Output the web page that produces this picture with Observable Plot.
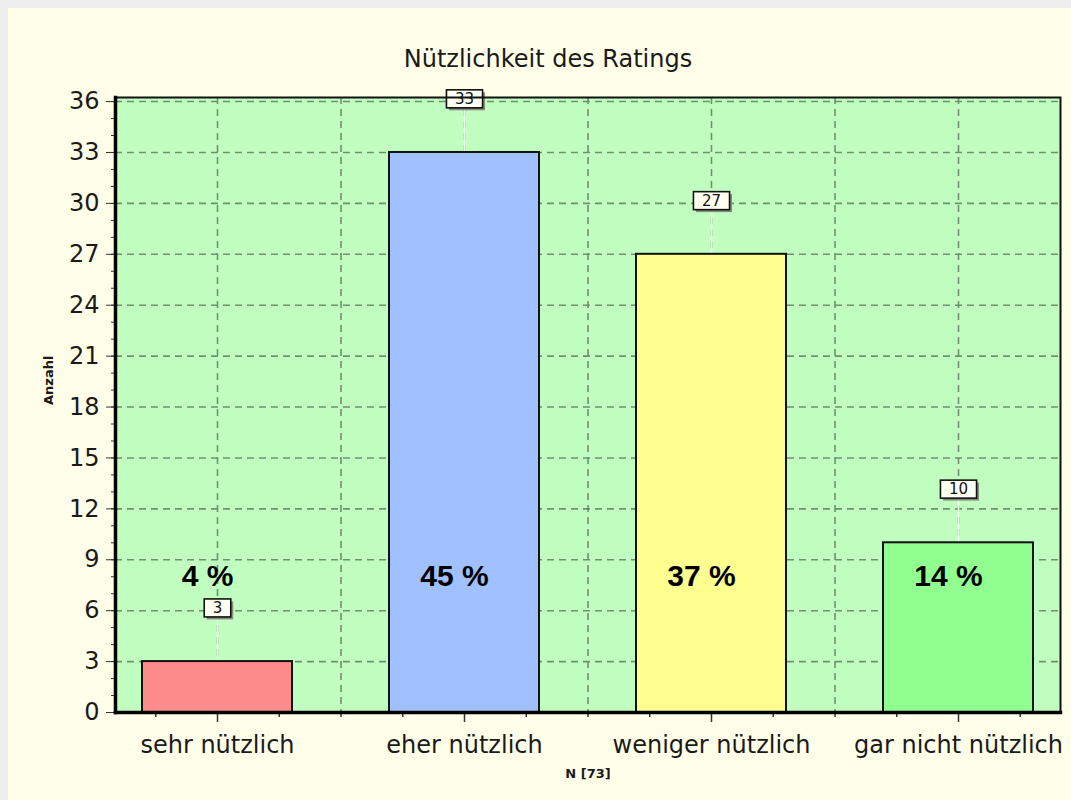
<!DOCTYPE html>
<html><head><meta charset="utf-8">
<script src="https://cdn.jsdelivr.net/npm/d3@7"></script>
<script src="https://cdn.jsdelivr.net/npm/@observablehq/plot@0.6"></script>
<style>
html,body{margin:0;padding:0;background:#eeeeee;}
#wrap{position:relative;width:1071px;height:800px;overflow:hidden;}
#panel{position:absolute;left:8px;top:8px;right:0;bottom:0;background:#fffee8;}
#chart{position:absolute;left:0;top:0;}
#title{position:absolute;left:348px;top:47px;width:400px;text-align:center;font:24px/24px "DejaVu Sans";color:#1a1a1a;}
</style></head>
<body>
<div id="wrap"><div id="panel"></div><div id="chart"></div><div id="title">Nützlichkeit des Ratings</div></div>
<script>
const categories = ["sehr nützlich","eher nützlich","weniger nützlich","gar nicht nützlich"];
const counts = [3, 33, 27, 10];
const percents = [4, 45, 37, 14];
const barColors = ["#ff8c8c","#a0c0ff","#ffff90","#90ff90"];
const yTicks = [0,3,6,9,12,15,18,21,24,27,30,33,36];
const yMinorTicks = d3.range(0, 37, 1);
const sampleLabel = "N [73]";
const yLabel = "Anzahl";

const data = categories.map((c, i) => ({category: c, count: counts[i], pct: percents[i]}));

const W = 1071, H = 800, mL = 115, mR = 11, mT = 97, mB = 88;
const pI = 0.393, pO = 0.109;
const step = (W - mL - mR) / (categories.length - pI + 2 * pO);
const yMax = 36.24;
const pxPerUnit = (H - mT - mB) / yMax;
const px = p => p / pxPerUnit;
const labelOffset = 3.15;
const gridColor = "#70906f";
const dash = "7,5";

const mids = categories.slice(0, -1);

const plot = Plot.plot({
  width: W, height: H,
  marginLeft: mL, marginRight: mR, marginTop: mT, marginBottom: mB,
  style: {background: "transparent", fontFamily: "DejaVu Sans", color: "#1a1a1a"},
  x: {domain: categories, paddingInner: pI, paddingOuter: pO},
  y: {domain: [0, yMax]},
  color: {domain: categories, range: barColors},
  marks: [
    Plot.frame({fill: "#c0ffc0"}),
    Plot.ruleY(yTicks.filter(t => t > 0), {stroke: gridColor, strokeWidth: 1.6, strokeDasharray: dash}),
    Plot.ruleX(categories, {stroke: gridColor, strokeWidth: 1.6, strokeDasharray: dash}),
    Plot.ruleX(mids, {dx: step / 2, stroke: gridColor, strokeWidth: 1.6, strokeDasharray: dash}),
    Plot.ruleX(data, {x: "category", y1: "count", y2: d => d.count + labelOffset, stroke: "#f2fff2", strokeWidth: 1.5}),
    Plot.barY(data, {x: "category", y: "count", fill: "category", stroke: "#111", strokeWidth: 2}),
    Plot.text(data, {x: "category", y: 8, text: d => d.pct + " %", dx: -10, fontSize: 30, fontWeight: "bold", fontFamily: "Liberation Sans", fill: "#000"}),
    Plot.text(data, {x: "category", y: d => d.count + labelOffset, text: d => String(d.count), fontSize: 15, fill: "#111", ariaDescription: "value-label"}),
    Plot.axisY({ticks: yMinorTicks, tickSize: 4, tickFormat: () => "", label: null, stroke: "#333"}),
    Plot.axisY({ticks: yTicks, tickSize: 9, tickPadding: 7, fontSize: 24, label: null, stroke: "#333", fill: "#1a1a1a"}),
    Plot.axisX({tickSize: 0, tickPadding: 23, fontSize: 24, label: null, fill: "#1a1a1a"}),
    Plot.ruleX(categories, {y1: 0, y2: -px(10), stroke: "#333", strokeWidth: 1.5}),
    Plot.ruleX(categories, {y1: 0, y2: -px(5), dx: -step / 4, stroke: "#333", strokeWidth: 1.5}),
    Plot.ruleX(categories, {y1: 0, y2: -px(5), dx: step / 4, stroke: "#333", strokeWidth: 1.5}),
    Plot.ruleX(mids, {y1: 0, y2: -px(5), dx: step / 2, stroke: "#333", strokeWidth: 1.5}),
    Plot.frame({stroke: "#111", strokeWidth: 2}),
    Plot.frame({anchor: "left", stroke: "#000", strokeWidth: 3.5}),
    Plot.frame({anchor: "bottom", stroke: "#000", strokeWidth: 3.5}),
    Plot.text([sampleLabel], {text: d => d, frameAnchor: "bottom", dy: 65, fontSize: 13, fontWeight: "bold", fill: "#1a1a1a"}),
    Plot.text([yLabel], {text: d => d, frameAnchor: "left", rotate: -90, dx: -67, fontSize: 13, fontWeight: "bold", fill: "#1a1a1a"})
  ]
});
document.getElementById("chart").appendChild(plot);

// boxes behind the value labels
const ns = "http://www.w3.org/2000/svg";
plot.querySelectorAll('g[aria-description="value-label"] text').forEach(t => {
  const bb = t.getBBox();
  const tr = t.getAttribute("transform");
  const padX = 8.5, h = 18;
  const cy = bb.y + bb.height / 2;
  const w = bb.width + 2 * padX;
  const mk = (dx, dy, fill, stroke) => {
    const r = document.createElementNS(ns, "rect");
    r.setAttribute("x", bb.x - padX + dx);
    r.setAttribute("y", cy - h / 2 + dy);
    r.setAttribute("width", w);
    r.setAttribute("height", h);
    r.setAttribute("fill", fill);
    if (stroke) { r.setAttribute("stroke", stroke); r.setAttribute("stroke-width", 1.6); }
    if (tr) r.setAttribute("transform", tr);
    t.parentNode.insertBefore(r, t);
  };
  mk(2.5, 2.5, "#8a8a80", null);
  mk(0, 0, "#fffff2", "#111");
});
</script>
</body></html>
